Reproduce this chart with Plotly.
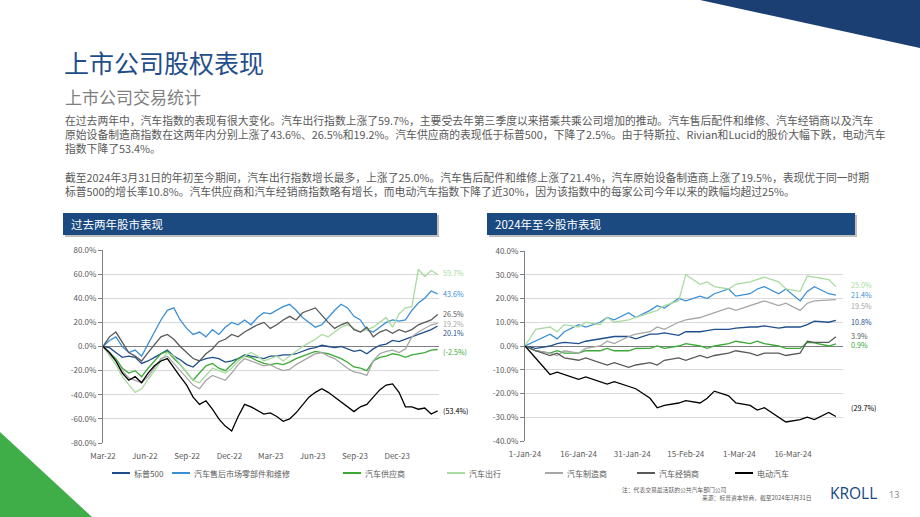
import plotly.graph_objects as go
import pandas as pd

W, H = 920, 517
def px(x): return x / W
def py(y): return 1 - y / H

FONT = "Noto Sans CJK SC"
GRAY = "#595959"

names = ["标普500", "汽车售后市场零部件和维修", "汽车供应商", "汽车出行", "汽车制造商", "汽车经销商", "电动汽车"]
colors = ["#1f4e8c", "#3b8fd4", "#3aaa35", "#a9dba0", "#a6a6a6", "#595959", "#000000"]

# ---- two-year performance (% change), sampled every 14 days from 31-Mar-2022
two_year_dates = pd.date_range("2022-03-31", periods=53, freq="14D")
sp500_2y = [0, -1, -5, -9, -8, -9, -14, -12, -9, -6, -3, -8, -11, -15, -17, -12, -10, -9, -10, -13,
            -12, -10, -7, -8, -9, -10, -8, -8, -7, -7, -6, -4, -2, -1, 1, 0, -1, 0, -2, -4,
            -3, -6, -2, 1, 2, 5, 4, 6, 8, 10, 12, 14, 17]
aftermarket_2y = [0, 5, 8, 0, -5, -3, -8, 2, 12, 22, 30, 32, 22, 15, 10, 12, 8, 14, 10, 16,
                  20, 18, 22, 18, 24, 28, 27, 30, 33, 35, 30, 24, 20, 16, 18, 24, 30, 35, 32, 25,
                  22, 14, 12, 16, 20, 22, 21, 22, 30, 36, 40, 46, 43.6]
supplier_2y = [0, -5, -10, -18, -22, -20, -25, -18, -12, -6, -4, -10, -15, -22, -28, -22, -16, -14, -18, -20,
               -15, -10, -8, -9, -12, -14, -15, -14, -15, -13, -10, -8, -6, -4, -5, -6, -8, -10, -13, -17,
               -18, -20, -12, -9, -8, -6, -7, -9, -7, -6, -5, -3, -2.5]
mobility_2y = [0, -8, -15, -25, -32, -38, -35, -28, -20, -12, -5, -8, -15, -22, -28, -30, -24, -18, -20, -22,
               -18, -12, -8, -5, -8, -12, -10, -8, -12, -8, -4, 0, 3, 6, 10, 8, 12, 16, 18, 15,
               12, 14, 16, 20, 24, 16, 27, 32, 33, 64, 58, 63, 59.7]
oem_2y = [0, -6, -12, -20, -26, -28, -30, -25, -18, -10, -8, -14, -20, -26, -32, -35, -28, -24, -26, -28,
          -22, -15, -10, -12, -14, -16, -15, -18, -20, -19, -15, -12, -9, -6, -5, -8, -10, -14, -18, -21,
          -22, -24, -12, -6, -4, -3, -5, -2, 8, 12, 15, 18, 19.2]
dealer_2y = [0, 8, 12, 4, -5, -8, -12, -5, 2, 8, 10, 6, 0, -5, -10, -12, -6, -2, 4, 6,
             10, 8, 12, 15, 18, 20, 15, 18, 22, 25, 22, 28, 30, 32, 26, 20, 15, 18, 20, 14,
             12, 16, 8, 12, 14, 11, 14, 12, 14, 18, 20, 22, 26.5]
ev_2y = [0, -5, -12, -22, -28, -25, -30, -22, -16, -12, -10, -18, -25, -32, -42, -48, -45, -52, -60, -66,
         -70, -58, -48, -50, -53, -56, -55, -58, -62, -60, -55, -48, -42, -38, -35, -38, -42, -46, -50, -54,
         -50, -48, -42, -36, -32, -31, -38, -50, -50, -52, -51, -56, -53.4]
two_year = [sp500_2y, aftermarket_2y, supplier_2y, mobility_2y, oem_2y, dealer_2y, ev_2y]
two_year_labels = ["20.1%", "43.6%", "(-2.5%)", "59.7%", "19.2%", "26.5%", "(53.4%)"]

# ---- year-to-date 2024 performance (%)
ytd_dates = ["2024-01-01", "2024-01-04", "2024-01-08", "2024-01-10", "2024-01-12", "2024-01-16",
             "2024-01-18", "2024-01-22", "2024-01-24", "2024-01-26", "2024-01-30", "2024-02-01",
             "2024-02-05", "2024-02-07", "2024-02-09", "2024-02-13", "2024-02-15", "2024-02-19",
             "2024-02-21", "2024-02-23", "2024-02-27", "2024-02-29", "2024-03-04", "2024-03-06",
             "2024-03-08", "2024-03-12", "2024-03-14", "2024-03-18", "2024-03-20", "2024-03-22",
             "2024-03-26", "2024-03-28"]
sp500_ytd = [0, -1, 0, 1, 1.5, 1, 2, 3, 3.5, 4, 4, 3, 5, 5, 5.5, 4.5, 6, 6, 6.5, 7,
             7, 7.5, 8, 8, 8.5, 7.5, 8, 8, 9, 10.5, 10, 10.8]
aftermarket_ytd = [0, 2, 5, 3, 6, 9, 8, 10, 12, 11, 14, 12, 15, 17, 16, 20, 19, 21, 20, 22,
                   24, 21, 22, 24, 25, 22, 24, 19, 23, 25, 22, 21.4]
supplier_ytd = [0, -2, -3, -2, -3, -3, -2, -2, -1, -2, -2, -1, -1, 0, -1, 0, 1, 0, -1, 0,
                1, 2, 1, 2, 1, 0, -1, -1, 1.5, 1.3, 0, 0.9]
mobility_ytd = [0, 7, 8, 6, 9, 8, 10, 9, 12, 10, 11, 12, 14, 15, 17, 19, 30, 26, 27, 25,
                24, 26, 27, 28, 29, 27, 24, 23, 29.5, 29, 28, 25]
oem_ytd = [0, -2, -3, -4, -2, -3, -1, 0, 2, 1, 4, 5, 6, 8, 7, 10, 11, 12, 13, 14,
           16, 15, 17, 18, 19, 17, 18, 15, 18, 19, 19.5, 19.5]
dealer_ytd = [0, -2, -4, -3, -5, -6, -5, -7, -8, -7, -9, -8, -7, -8, -6, -5, -6, -4, -5, -4,
              -3, -2, -3, -4, -3, -3, -4, -3, 2, 1.5, 1.5, 3.9]
ev_ytd = [0, -5, -12, -11, -12, -14, -13, -15, -16, -15, -17, -18, -22, -26, -25, -24, -23, -24, -22, -19,
          -21, -24, -25, -27, -26, -30, -32, -31, -30, -31, -28, -29.7]
ytd = [sp500_ytd, aftermarket_ytd, supplier_ytd, mobility_ytd, oem_ytd, dealer_ytd, ev_ytd]
ytd_labels = ["10.8%", "21.4%", "0.9%", "25.0%", "19.5%", "3.9%", "(29.7%)"]

left_ticks = ["2022-03-31", "2022-06-30", "2022-09-30", "2022-12-31", "2023-03-31", "2023-06-30",
              "2023-09-30", "2023-12-31"]
left_ticktext = ["Mar-22", "Jun-22", "Sep-22", "Dec-22", "Mar-23", "Jun-23", "Sep-23", "Dec-23"]
right_ticks = ["2024-01-01", "2024-01-16", "2024-01-31", "2024-02-15", "2024-03-01", "2024-03-16"]
right_ticktext = ["1-Jan-24", "16-Jan-24", "31-Jan-24", "15-Feb-24", "1-Mar-24", "16-Mar-24"]
left_yticks = list(range(-80, 81, 20))
right_yticks = list(range(-40, 41, 10))

title = "上市公司股权表现"
subtitle = "上市公司交易统计"
para1 = ["在过去两年中，汽车指数的表现有很大变化。汽车出行指数上涨了59.7%，主要受去年第三季度以来搭乘共乘公司增加的推动。汽车售后配件和维修、汽车经销商以及汽车",
         "原始设备制造商指数在这两年内分别上涨了43.6%、26.5%和19.2%。汽车供应商的表现低于标普500，下降了2.5%。由于特斯拉、Rivian和Lucid的股价大幅下跌，电动汽车",
         "指数下降了53.4%。"]
para2 = ["截至2024年3月31日的年初至今期间，汽车出行指数增长最多，上涨了25.0%。汽车售后配件和维修上涨了21.4%，汽车原始设备制造商上涨了19.5%，表现优于同一时期",
         "标普500的增长率10.8%。汽车供应商和汽车经销商指数略有增长，而电动汽车指数下降了近30%，因为该指数中的每家公司今年以来的跌幅均超过25%。"]
left_header = "过去两年股市表现"
right_header = "2024年至今股市表现"
note1 = "注：代表交易最活跃的公共汽车部门公司"
note2 = "来源：标普资本智商，截至2024年3月31日"

fig = go.Figure()
for i, n in enumerate(names):
    fig.add_trace(go.Scatter(x=two_year_dates, y=two_year[i], mode="lines", name=n,
                             line=dict(color=colors[i], width=1.3), xaxis="x", yaxis="y", showlegend=False))
for i, n in enumerate(names):
    fig.add_trace(go.Scatter(x=ytd_dates, y=ytd[i], mode="lines", name=n,
                             line=dict(color=colors[i], width=1.3), xaxis="x2", yaxis="y2", showlegend=False))

tickfont = dict(family=FONT, size=8, color=GRAY)
fig.update_layout(
    width=W, height=H, margin=dict(l=0, r=0, t=0, b=0, autoexpand=False),
    paper_bgcolor="white", plot_bgcolor="white", showlegend=False,
    font=dict(family=FONT, color=GRAY),
    xaxis=dict(domain=[px(103), px(439)], range=["2022-03-31", "2024-03-31"], automargin=False,
               tickvals=left_ticks, ticktext=left_ticktext, showgrid=False, showline=False,
               zeroline=False, ticks="", tickfont=tickfont, ticklabelstandoff=7),
    yaxis=dict(domain=[py(443), py(250)], range=[-80, 80], tickvals=left_yticks, automargin=False,
               ticktext=[f"{v:.1f}%" for v in left_yticks], showgrid=True, gridcolor="#d9d9d9",
               gridwidth=0.8, zeroline=True, zerolinecolor="#7f7f7f", zerolinewidth=1,
               showline=True, linecolor="#7f7f7f", linewidth=1, ticks="outside", ticklen=4,
               tickcolor="#7f7f7f", tickfont=tickfont),
    xaxis2=dict(domain=[px(525), px(843)], range=["2024-01-01", "2024-03-30"], anchor="y2",
                automargin=False, ticklabelstandoff=7,
                tickvals=right_ticks, ticktext=right_ticktext, showgrid=False, showline=False,
                zeroline=False, ticks="", tickfont=tickfont),
    yaxis2=dict(domain=[py(441), py(251)], range=[-40, 40], anchor="x2", tickvals=right_yticks,
                automargin=False,
                ticktext=[f"{v:.1f}%" for v in right_yticks], showgrid=True, gridcolor="#d9d9d9",
                gridwidth=0.8, zeroline=True, zerolinecolor="#7f7f7f", zerolinewidth=1,
                showline=True, linecolor="#7f7f7f", linewidth=1, ticks="outside", ticklen=4,
                tickcolor="#7f7f7f", tickfont=tickfont),
)

shapes = []
# decorative triangles
shapes.append(dict(type="path", xref="paper", yref="paper",
                   path=f"M {px(700)} {py(0)} L {px(920)} {py(0)} L {px(920)} {py(48)} Z",
                   fillcolor="#1b3f72", line=dict(width=0)))
shapes.append(dict(type="path", xref="paper", yref="paper",
                   path=f"M {px(0)} {py(432)} L {px(0)} {py(517)} L {px(92)} {py(517)} Z",
                   fillcolor="#3fae49", line=dict(width=0)))
# header bars with shadow
for (x0, x1) in [(63, 437), (487, 855)]:
    shapes.append(dict(type="rect", xref="paper", yref="paper", x0=px(x0 + 2), x1=px(x1 + 2),
                       y0=py(237), y1=py(215), fillcolor="rgba(0,0,0,0.25)", line=dict(width=0)))
    shapes.append(dict(type="rect", xref="paper", yref="paper", x0=px(x0), x1=px(x1),
                       y0=py(235), y1=py(213), fillcolor="#1a4a80", line=dict(width=0)))

annotations = []
def txt(x, y, text, size, color=GRAY, xanchor="left", family=FONT, **kw):
    annotations.append(dict(x=px(x), y=py(y), xref="paper", yref="paper", text=text, showarrow=False,
                            xanchor=xanchor, yanchor="middle", font=dict(family=family, size=size, color=color), **kw))

txt(62, 62, title, 25, "#1f4e8c")
txt(63, 97, subtitle, 17, "#7f7f7f")
for k, line in enumerate(para1):
    txt(63, 120 + 14 * k, line, 10.8)
for k, line in enumerate(para2):
    txt(63, 177 + 14 * k, line, 10.8)
txt(69, 224, left_header, 11.5, "white")
txt(493, 224, right_header, 11.5, "white")

# end labels
left_label_y = [333, 294, 352, 273, 324, 314, 411]
right_label_y = [322, 295, 345, 285, 306, 336, 408]
for i in range(len(names)):
    txt(441, left_label_y[i], two_year_labels[i], 7.2, colors[i])
    txt(849, right_label_y[i], ytd_labels[i], 7.2, colors[i])

# legend
legend_x = [112, 172, 343, 447, 545, 637, 735]
for i, n in enumerate(names):
    shapes.append(dict(type="line", xref="paper", yref="paper", x0=px(legend_x[i]), x1=px(legend_x[i] + 18),
                       y0=py(473), y1=py(473), line=dict(color=colors[i], width=2)))
    txt(legend_x[i] + 20, 473, n, 8)

# footer
txt(620, 490, note1, 5.8)
txt(813, 497, note2, 5.8, xanchor="right")
txt(828, 493, "KROLL", 15.5, "#14487f", family="Open Sans")
txt(887, 494, "13", 9, "#7f7f7f", family="Open Sans")

fig.update_layout(shapes=shapes, annotations=annotations)
fig.write_html("out.html")
